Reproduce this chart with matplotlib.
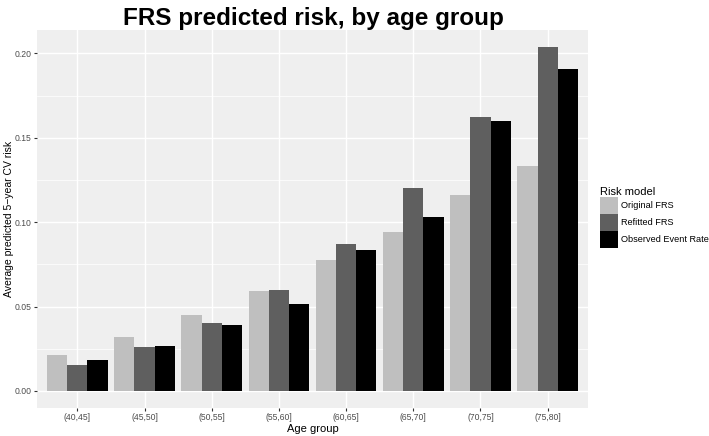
import numpy as np
import matplotlib
matplotlib.use("Agg")
import matplotlib.pyplot as plt
from matplotlib.patches import Patch

plt.rcParams['font.family'] = ['Liberation Sans', 'DejaVu Sans']

# data
age_groups = ["(40,45]", "(45,50]", "(50,55]", "(55,60]", "(60,65]", "(65,70]", "(70,75]", "(75,80]"]
original_frs = [0.0213, 0.0320, 0.0448, 0.0592, 0.0774, 0.0944, 0.1161, 0.1331]
refitted_frs = [0.0154, 0.0260, 0.0403, 0.0596, 0.0869, 0.1201, 0.1621, 0.2036]
observed_rate = [0.0182, 0.0265, 0.0389, 0.0517, 0.0835, 0.1033, 0.1597, 0.1908]
series_names = ["Original FRS", "Refitted FRS", "Observed Event Rate"]
series_colors = ["#BFBFBF", "#5F5F5F", "#000000"]

fig = plt.figure(figsize=(7.09, 4.36), dpi=100)
ax = fig.add_axes([0.0522, 0.0642, 0.7771, 0.867])
ax.set_facecolor("#EFEFEF")

x = np.arange(1, len(age_groups) + 1)
w = 0.3
for i, (vals, col) in enumerate(zip([original_frs, refitted_frs, observed_rate], series_colors)):
    ax.bar(x + (i - 1) * w, vals, width=w, color=col, linewidth=0, zorder=3)

ax.set_xlim(0.4, 8.6)
ax.set_ylim(-0.0101, 0.2138)
ax.set_yticks([0, 0.05, 0.10, 0.15, 0.20])
ax.set_yticklabels(["0.00", "0.05", "0.10", "0.15", "0.20"])
ax.set_yticks([0.025, 0.075, 0.125, 0.175], minor=True)
ax.set_xticks(x)
ax.set_xticklabels(age_groups)

ax.grid(which="major", color="white", linewidth=1.0, zorder=0)
ax.grid(which="minor", axis="y", color="white", linewidth=0.5, zorder=0)
ax.tick_params(which="major", length=2.2, width=0.8, color="#333333", labelsize=6.2,
               labelcolor="#4D4D4D", pad=1.5)
ax.tick_params(which="minor", length=0)
for s in ax.spines.values():
    s.set_visible(False)

ax.set_xlabel("Age group", fontsize=8, labelpad=1)
ax.set_ylabel("Average predicted 5\u2212year CV risk", fontsize=7.5, labelpad=2)
ax.yaxis.set_label_coords(-0.042, 0.5)
fig.text(0.4415, 0.957, "FRS predicted risk, by age group", ha="center", va="center",
         fontsize=17.5, fontweight="bold")

handles = [Patch(facecolor=c, edgecolor="none") for c in series_colors]
leg = fig.legend(handles, series_names, title="Risk model", loc="upper left",
                 bbox_to_anchor=(0.846, 0.572), frameon=False, fontsize=6.6,
                 title_fontsize=8, handlelength=1.96, handleheight=2.48,
                 handletextpad=0.3, labelspacing=0.0, borderaxespad=0, borderpad=0)
leg._legend_box.align = "left"

fig.savefig("out.png", dpi=100)
